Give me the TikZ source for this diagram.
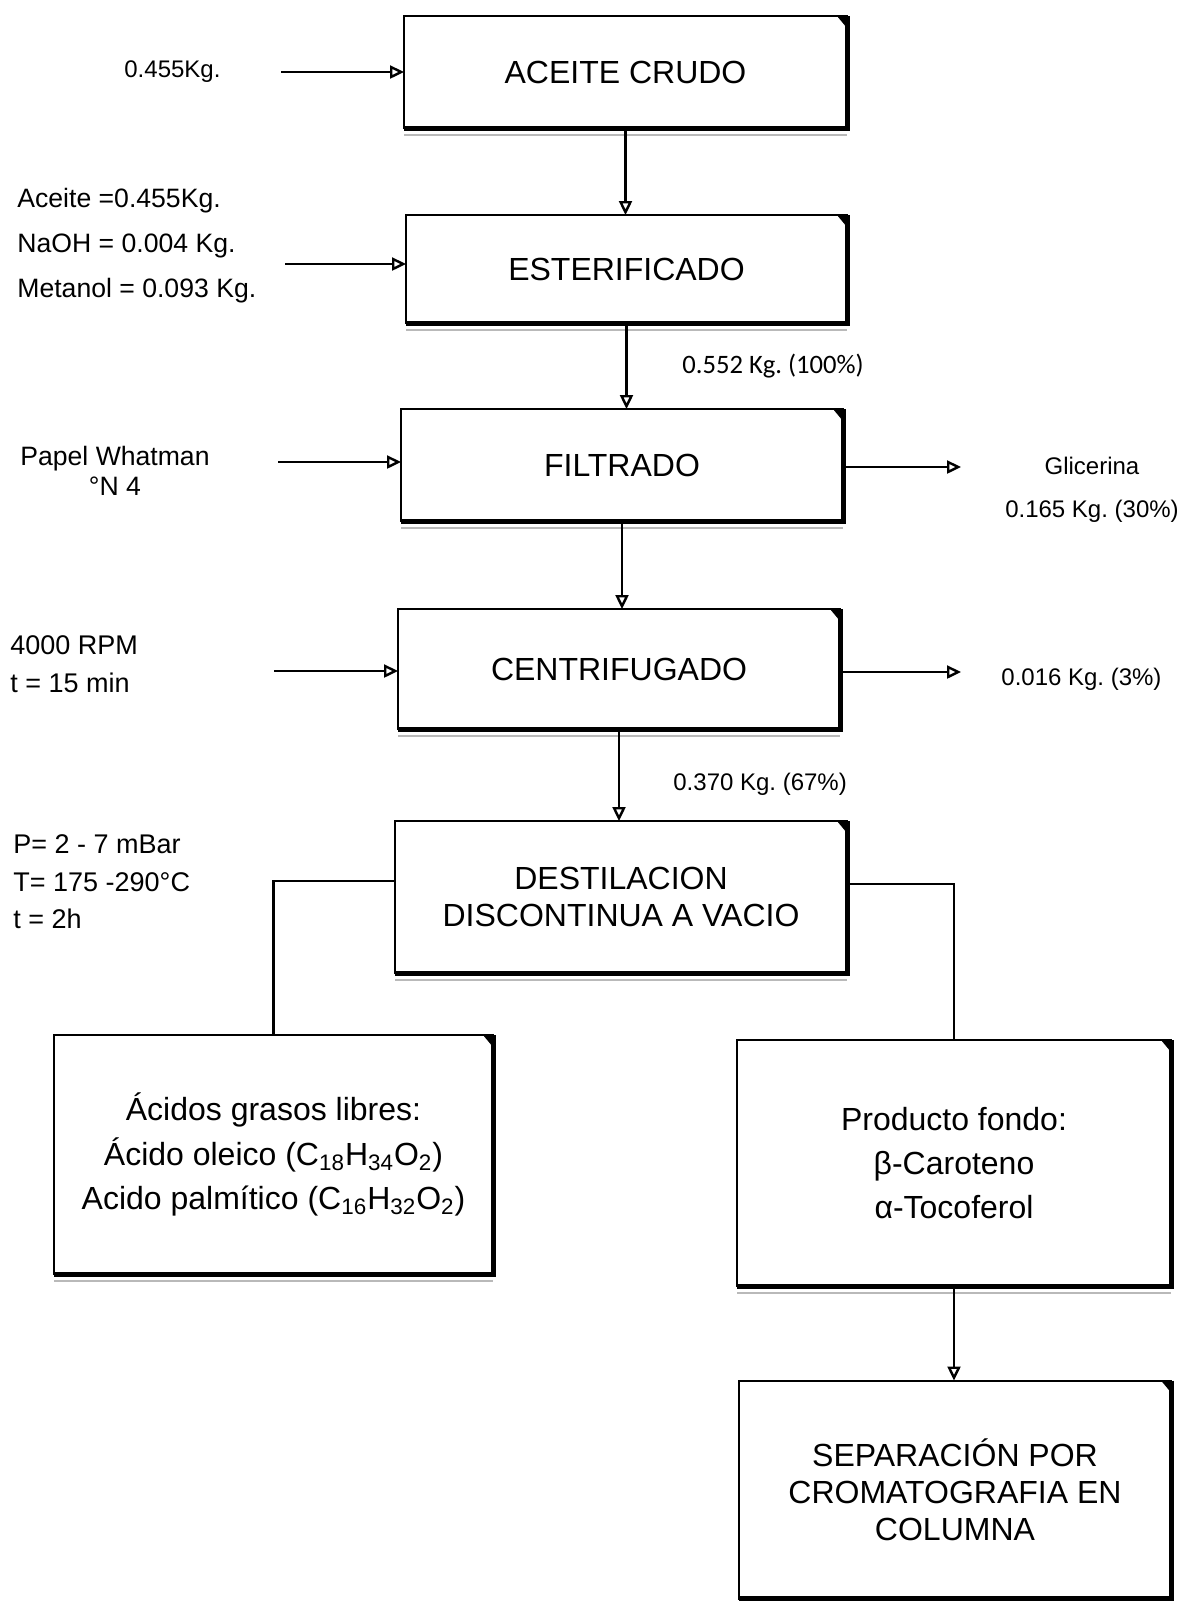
\documentclass[tikz,border=0pt]{standalone}
\usepackage{fontspec}
\setmainfont{Liberation Sans}
\newfontfamily\calibrifont{Carlito}
\frenchspacing
\usetikzlibrary{arrows.meta, positioning}

\begin{document}
\begin{tikzpicture}[x=0.5pt, y=-0.5pt,
  proc/.style={rectangle, draw=black, line width=1pt, fill=white, align=center,
    inner sep=0pt, outer sep=0pt, font=\fontsize{16}{18.5}\selectfont},
  proclist/.style={proc, font=\fontsize{16}{22.2}\selectfont},
  lbl/.style={anchor=west, align=left, inner sep=0pt},
  qty/.style={anchor=west, inner sep=0pt, font=\fontsize{12}{21.5}\selectfont},
  arr/.style={-{Triangle[open, length=7pt, width=6.5pt]}, line width=1.2pt},
  link/.style={line width=1.2pt}]
  \useasboundingbox (0,0) rectangle (1186,1603);
  % etapas del proceso
  \node[proc, minimum width=221.5pt, minimum height=56pt] (aceite) at (625.5,72) {ACEITE CRUDO};
  \node[proc, minimum width=220.5pt, minimum height=54pt] (ester) at (626.5,269) {ESTERIFICADO};
  \node[proc, minimum width=221pt, minimum height=56pt] (filtr) at (622,465) {FILTRADO};
  \node[proc, minimum width=221pt, minimum height=60pt] (centr) at (619,669) {CENTRIFUGADO};
  \node[proc, minimum width=226pt, minimum height=76pt] (destil) at (621,897) {DESTILACION\\DISCONTINUA A VACIO};
  \node[proclist, minimum width=219.5pt, minimum height=119.5pt] (acidos) at (273.5,1154.5)
    {Ácidos grasos libres:\\Ácido oleico (C\textsubscript{18}H\textsubscript{34}O\textsubscript{2})\\Acido palmítico (C\textsubscript{16}H\textsubscript{32}O\textsubscript{2})};
  \node[proclist, minimum width=217pt, minimum height=123pt] (fondo) at (954,1163)
    {Producto fondo:\\β-Caroteno\\α-Tocoferol};
  \node[proc, minimum width=216pt, minimum height=109pt] (separ) at (955,1489.5)
    {SEPARACIÓN POR\\CROMATOGRAFIA EN\\COLUMNA};
  % bisel de las cajas
  \foreach \n in {aceite,ester,filtr,centr,destil,acidos,fondo,separ} {
    \draw[line width=2.5pt] (\n.north east) -- (\n.south east) -- (\n.south west);
    \fill (\n.north east) -- ([xshift=-5pt]\n.north east) -- ([yshift=-6pt]\n.north east) -- cycle;
    \draw[gray!55, line width=0.6pt] ([yshift=-3.5pt]\n.south west) -- ([yshift=-3.5pt]\n.south east);
  }
  % entradas y salidas
  \node[qty] (m0) at (124,72) {0.455Kg.};
  \node[lbl, font=\fontsize{13.3}{22.5}\selectfont] (m1) at (17,246)
    {Aceite =0.455Kg.\\NaOH = 0.004 Kg.\\Metanol = 0.093 Kg.};
  \node[lbl, font=\calibrifont\fontsize{13.3}{16}\selectfont] (m2) at (682,366) {0.552 Kg. (100\%)};
  \node[align=center, inner sep=0pt, font=\fontsize{13.3}{15.3}\selectfont] (papel) at (115,471)
    {Papel Whatman\\°N 4};
  \node[align=center, inner sep=0pt, font=\fontsize{12}{21.5}\selectfont] (glic) at (1092,490)
    {Glicerina\\0.165 Kg. (30\%)};
  \node[lbl, font=\fontsize{13.5}{19}\selectfont] (rpm) at (10,664) {4000 RPM\\t = 15 min};
  \node[qty] (m3) at (1001,679) {0.016 Kg. (3\%)};
  \node[qty] (m4) at (673,784) {0.370 Kg. (67\%)};
  \node[lbl, font=\fontsize{13.5}{18.7}\selectfont] (cond) at (13,882)
    {P= 2 - 7 mBar\\T= 175 -290°C\\t = 2h};
  \coordinate (in1) at (281,72);
  \coordinate (in2) at (285,264);
  \coordinate (in3) at (278,462);
  \coordinate (in4) at (274,671);
  \coordinate (out1) at (961,467);
  \coordinate (out2) at (961,672);
  % conectores
  \draw[arr] (in1) -- (in1 -| aceite.west);
  \draw[arr] (in2) -- (in2 -| ester.west);
  \draw[arr] (in3) -- (in3 -| filtr.west);
  \draw[arr] (in4) -- (in4 -| centr.west);
  \draw[arr] (out1 -| filtr.east) -- (out1);
  \draw[arr] (out2 -| centr.east) -- (out2);
  \draw[arr] (aceite.south) -- (aceite.south |- ester.north);
  \draw[arr] (ester.south) -- (ester.south |- filtr.north);
  \draw[arr] (filtr.south) -- (filtr.south |- centr.north);
  \draw[arr] (centr.south) -- (centr.south |- destil.north);
  \draw[link] ([yshift=8pt]destil.west) -| (acidos.north);
  \draw[link] ([yshift=6.5pt]destil.east) -| (fondo.north);
  \draw[arr] (fondo.south) -- (fondo.south |- separ.north);
\end{tikzpicture}
\end{document}
